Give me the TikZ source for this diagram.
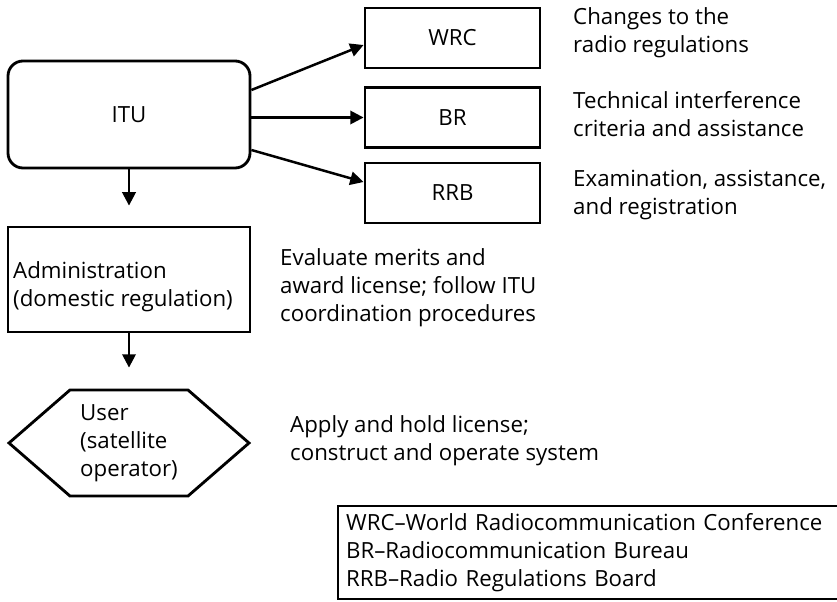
\documentclass[tikz,border=0pt]{standalone}
\usepackage{fontspec}
\setmainfont{Open Sans}
\usepackage{tikz}
\usetikzlibrary{arrows.meta, shapes.symbols, positioning, calc}

\begin{document}
\begin{tikzpicture}[x=0.3mm, y=-0.3mm,
        font=\fontsize{19}{24}\selectfont,
        regbox/.style={draw, line width=0.85mm, minimum width=52.5mm, minimum height=18mm, inner sep=0pt},
        note/.style={anchor=west, align=left, inner sep=0pt},
        arr/.style={-{Triangle[length=4mm,width=4mm]}, line width=0.75mm}]

        \useasboundingbox (0,0) rectangle (837,601);

        % ITU and its three bodies
        \node[draw, line width=0.85mm, rounded corners=4.5mm, minimum width=72.6mm, minimum height=32.1mm] (itu) at (129,114.5) {ITU};
        \node[regbox] (wrc) at (452.5,38) {WRC};
        \node[regbox] (br) at (452.5,117.5) {BR};
        \node[regbox] (rrb) at (452.5,193) {RRB};

        \node[note] (wrcnote) at (573,32.5) {Changes to the\\radio regulations};
        \node[note] (brnote) at (573,114) {Technical interference\\criteria and assistance};
        \node[note] (rrbnote) at (573,195) {Examination, assistance,\\and registration};

        \draw[arr] ($(itu.east)+(0,-24.5)$) -- ($(wrc.west)+(0,7)$);
        \draw[arr] (itu.east |- br.west) -- (br.west);
        \draw[arr] ($(itu.east)+(0,35.5)$) -- ($(rrb.west)+(0,-11)$);

        % national level
        \node[draw, line width=0.85mm, minimum width=72.6mm, minimum height=31.5mm] (admin) at (129,279.5) {};
        \node[note] (admintext) at (13,287) {Administration\\(domestic regulation)};
        \node[note] (adminnote) at (280,288) {Evaluate merits and\\award license; follow ITU\\coordination procedures};

        \node[draw, line width=0.85mm, signal, signal to=west and east, signal pointer angle=82, minimum width=72mm, minimum height=31.8mm, align=left, inner sep=0pt] (user) at (129,443) {User\\(satellite\\operator)};
        \node[note] (usernote) at (290,441) {Apply and hold license;\\construct and operate system};

        \draw[arr, shorten >=6mm] (itu.south) -- (admin.north);
        \draw[arr, shorten >=6.3mm] (admin.south) -- (user.north);

        % abbreviations
        \node[draw, line width=0.7mm, anchor=west, align=left, text width=170mm, inner xsep=2.4mm, minimum height=27.9mm] (legend) at (337,552.5) {WRC--World Radiocommunication Conference\\BR--Radiocommunication Bureau\\RRB--Radio Regulations Board};

    \end{tikzpicture}
\end{document}
